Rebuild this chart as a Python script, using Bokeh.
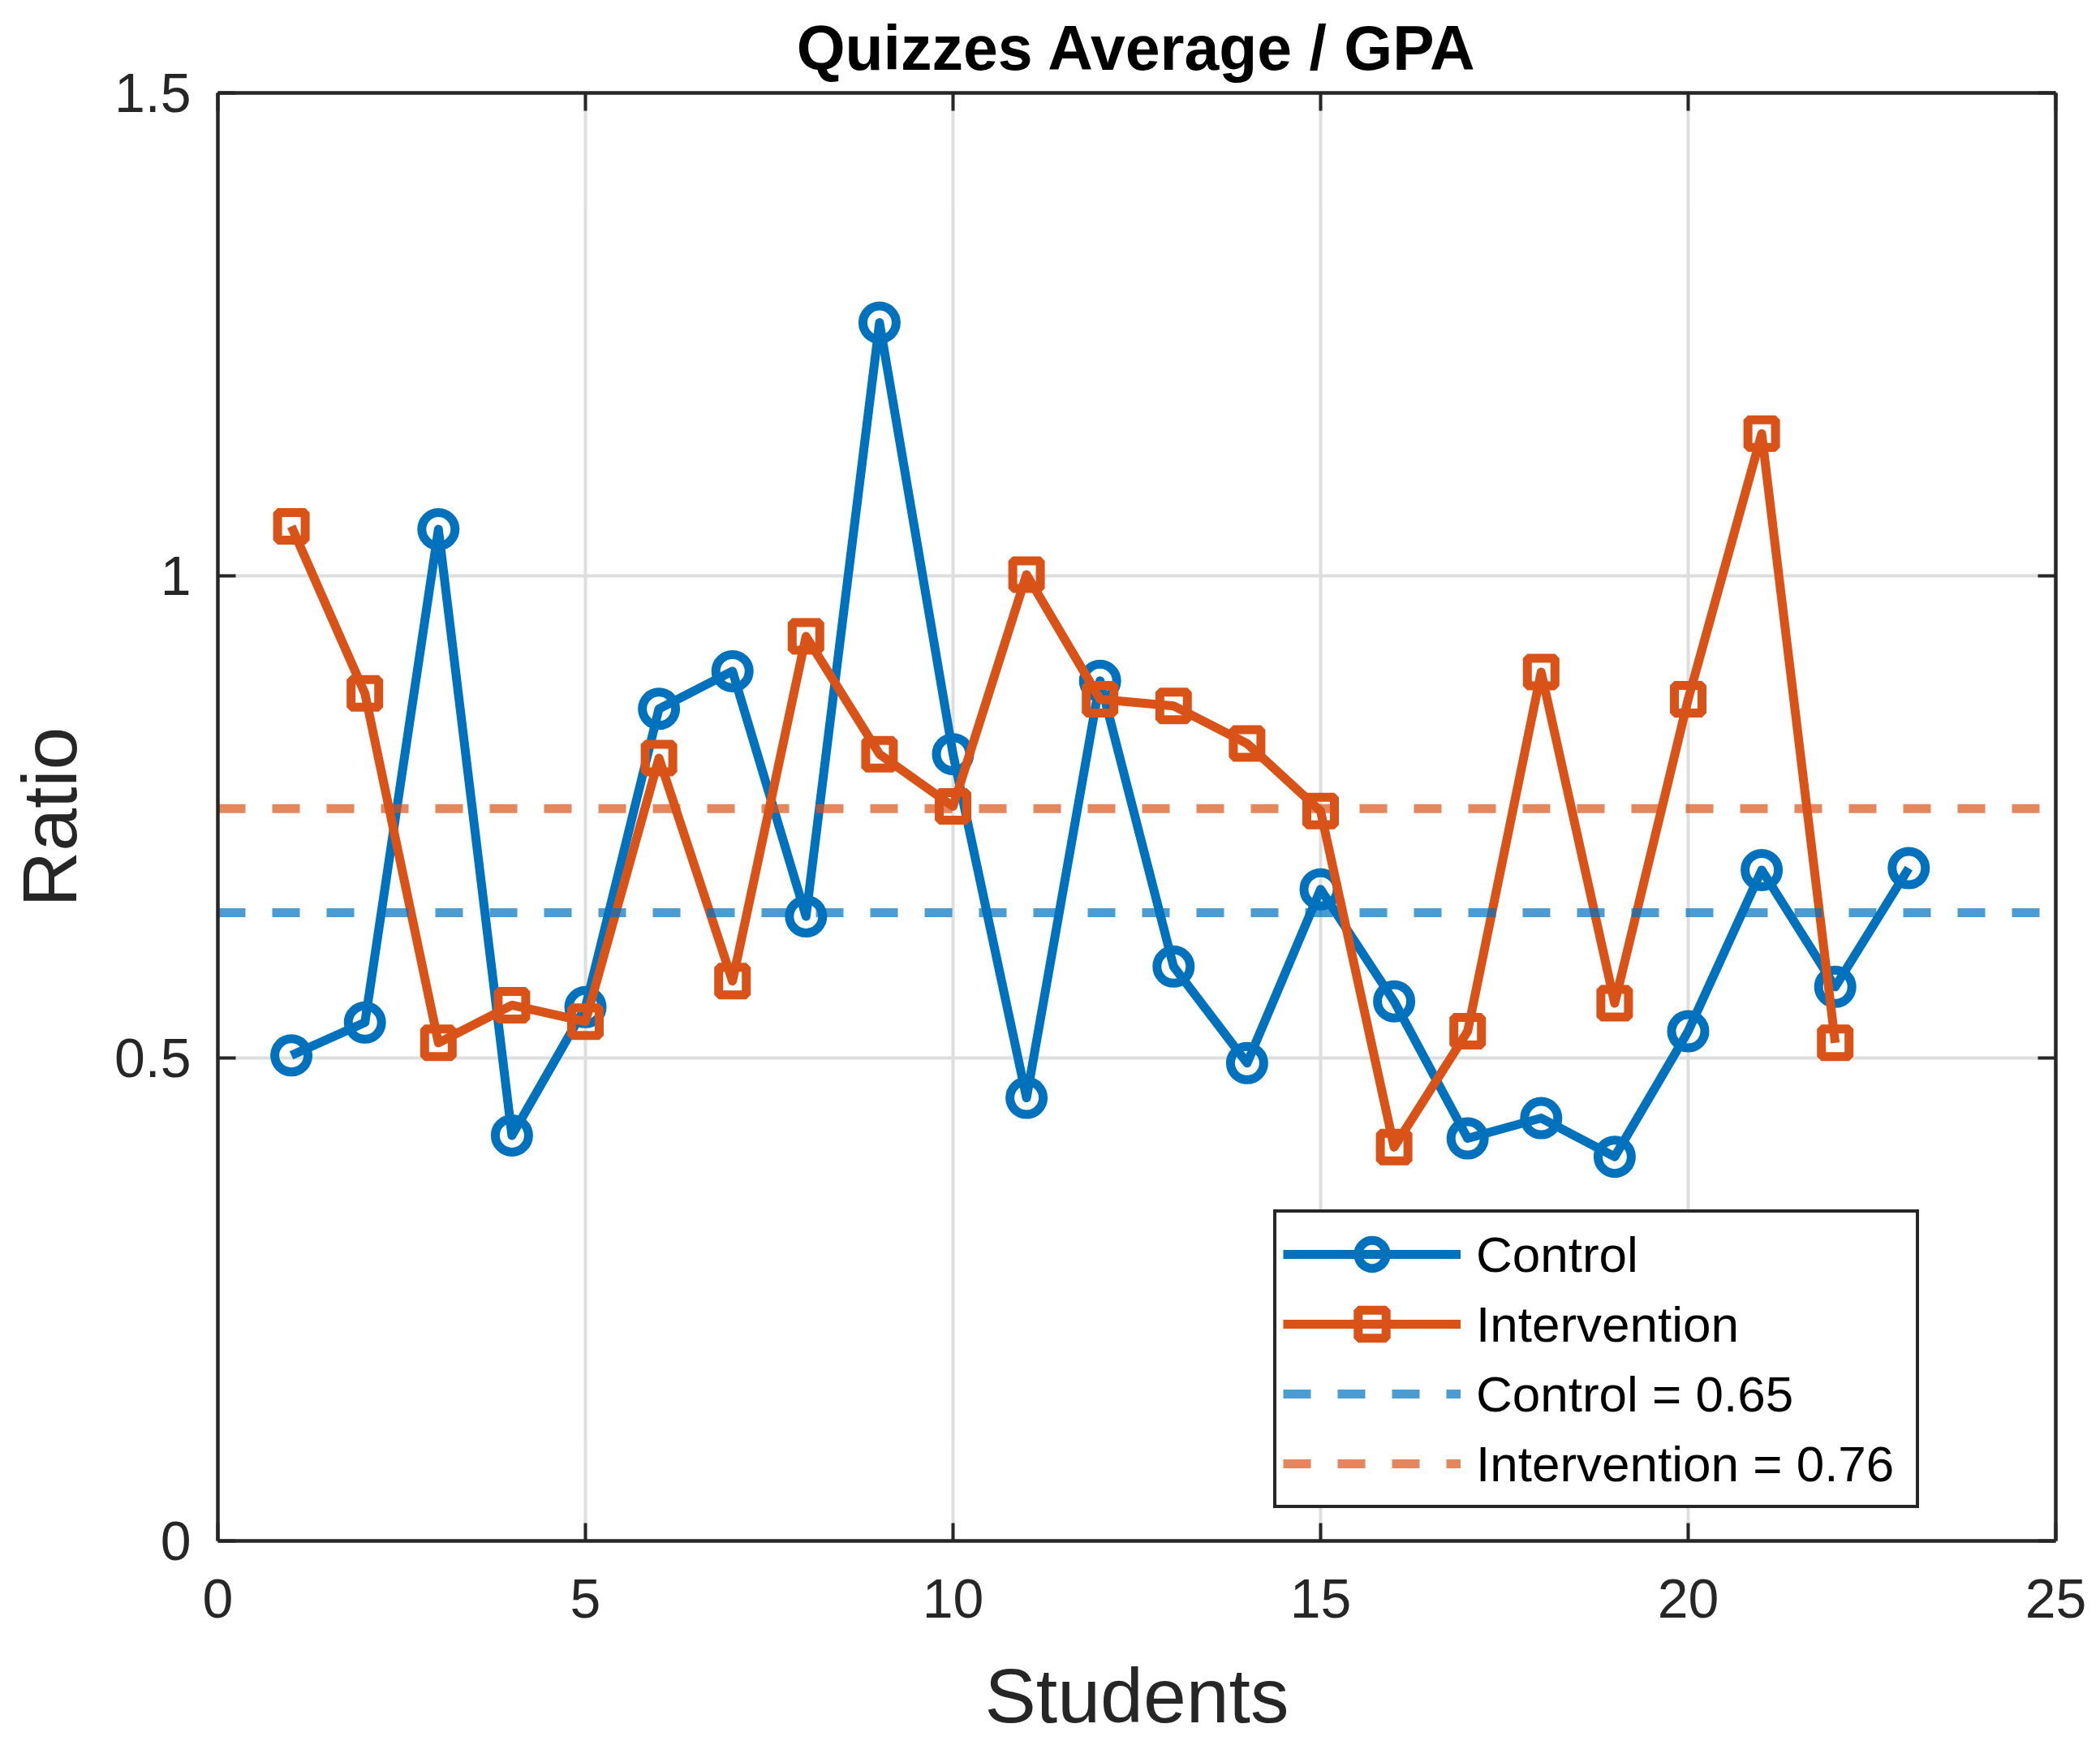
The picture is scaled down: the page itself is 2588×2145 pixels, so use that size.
from bokeh.plotting import figure
from bokeh.models import (LinearAxis, FixedTicker, NumeralTickFormatter, Legend,
                          LegendItem, Range1d)
from bokeh.embed import file_html
from bokeh.resources import INLINE
import numpy as np

# ---------------- data ----------------
students_control = list(range(1, 24))
control = [0.503, 0.537, 1.048, 0.420, 0.553, 0.862, 0.901, 0.647, 1.262, 0.815,
           0.459, 0.891, 0.595, 0.495, 0.675, 0.559, 0.417, 0.438, 0.398, 0.528,
           0.695, 0.574, 0.697]
students_intervention = list(range(1, 23))
intervention = [1.051, 0.878, 0.516, 0.555, 0.538, 0.811, 0.580, 0.937, 0.815, 0.761,
                1.001, 0.872, 0.865, 0.826, 0.756, 0.408, 0.528, 0.900, 0.557, 0.872,
                1.147, 0.516]
x_limits = (0, 25)
y_limits = (0, 1.5)
x_ticks = [0, 5, 10, 15, 20, 25]
y_ticks = [0, 0.5, 1, 1.5]
title_text = "Quizzes Average / GPA"
x_label = "Students"
y_label = "Ratio"
series_names = ["Control", "Intervention"]

# ---------------- style ----------------
BLUE = "#0072BD"
ORANGE = "#D95319"
DARK = "#262626"
FONT = "Liberation Sans"
W, H = 2588, 2145

p = figure(width=W, height=H, x_range=Range1d(*x_limits), y_range=Range1d(*y_limits),
           output_backend="svg", toolbar_location=None, title=title_text,
           min_border_left=268, min_border_right=55, min_border_top=112,
           min_border_bottom=247)
p.background_fill_color = "white"
p.border_fill_color = "white"
p.outline_line_color = None

p.title.text_font = FONT
p.title.text_font_size = "77px"
p.title.text_font_style = "bold"
p.title.text_color = "black"
p.title.align = "center"
p.title.standoff = 26


def style_axis(ax, ticks, labels=True):
    ax.ticker = FixedTicker(ticks=ticks)
    ax.axis_line_width = 4.5
    ax.axis_line_color = DARK
    ax.major_tick_line_color = DARK
    ax.major_tick_line_width = 4
    ax.major_tick_in = 22
    ax.major_tick_out = 0
    ax.minor_tick_line_color = None
    ax.major_label_text_font = FONT
    if labels:
        ax.formatter = NumeralTickFormatter(format="0.[0]")
        ax.major_label_text_font_size = "68px"
        ax.major_label_text_color = DARK
    else:
        ax.major_label_text_font_size = "1px"
        ax.major_label_text_color = None
        ax.major_label_standoff = 0


style_axis(p.xaxis[0], x_ticks)
style_axis(p.yaxis[0], y_ticks)
p.xaxis[0].major_label_standoff = 47
p.yaxis[0].major_label_standoff = 33
p.xaxis[0].axis_label = x_label
p.yaxis[0].axis_label = y_label
for ax in (p.xaxis[0], p.yaxis[0]):
    ax.axis_label_text_font = FONT
    ax.axis_label_text_font_size = "95px"
    ax.axis_label_text_font_style = "normal"
    ax.axis_label_text_color = DARK
p.xaxis[0].axis_label_standoff = 40
p.yaxis[0].axis_label_standoff = 24

top_ax = LinearAxis()
right_ax = LinearAxis()
style_axis(top_ax, x_ticks, labels=False)
style_axis(right_ax, y_ticks, labels=False)
p.add_layout(top_ax, "above")
p.add_layout(right_ax, "right")

p.xgrid.ticker = FixedTicker(ticks=x_ticks)
p.ygrid.ticker = FixedTicker(ticks=y_ticks)
for g in (p.xgrid[0], p.ygrid[0]):
    g.grid_line_color = "#DEDEDE"
    g.grid_line_width = 4

# ---------------- data marks ----------------
l1 = p.line(students_control, control, line_color=BLUE, line_width=11, line_join="round")
s1 = p.scatter(students_control, control, marker="circle", size=41, line_color=BLUE,
               line_width=11, fill_color=None)
l2 = p.line(students_intervention, intervention, line_color=ORANGE, line_width=11,
            line_join="round")
s2 = p.scatter(students_intervention, intervention, marker="square", size=34,
               line_color=ORANGE, line_width=11, fill_color=None)

control_mean = float(np.mean(control))
intervention_mean = float(np.mean(intervention))
m1 = p.line(list(x_limits), [control_mean, control_mean], line_color=BLUE, line_alpha=0.7,
            line_width=11, line_dash="34 33")
m2 = p.line(list(x_limits), [intervention_mean, intervention_mean], line_color=ORANGE,
            line_alpha=0.7, line_width=11, line_dash="34 33")

legend = Legend(items=[
    LegendItem(label=series_names[0], renderers=[l1, s1]),
    LegendItem(label=series_names[1], renderers=[l2, s2]),
    LegendItem(label=f"{series_names[0]} = {control_mean:.2f}", renderers=[m1]),
    LegendItem(label=f"{series_names[1]} = {intervention_mean:.2f}", renderers=[m2]),
], location=(1301, 40))
legend.border_line_color = DARK
legend.border_line_alpha = 1
legend.border_line_width = 4.5
legend.background_fill_color = "white"
legend.background_fill_alpha = 1
legend.padding = 8
legend.spacing = 0
legend.margin = 0
legend.glyph_height = 86
legend.label_height = 86
legend.glyph_width = 219
legend.label_standoff = 19
legend.label_width = 534
legend.label_text_font = FONT
legend.label_text_font_size = "62px"
legend.label_text_color = "black"
legend.label_text_baseline = "middle"
p.add_layout(legend, "center")

open("out.html", "w").write(file_html(p, INLINE))
